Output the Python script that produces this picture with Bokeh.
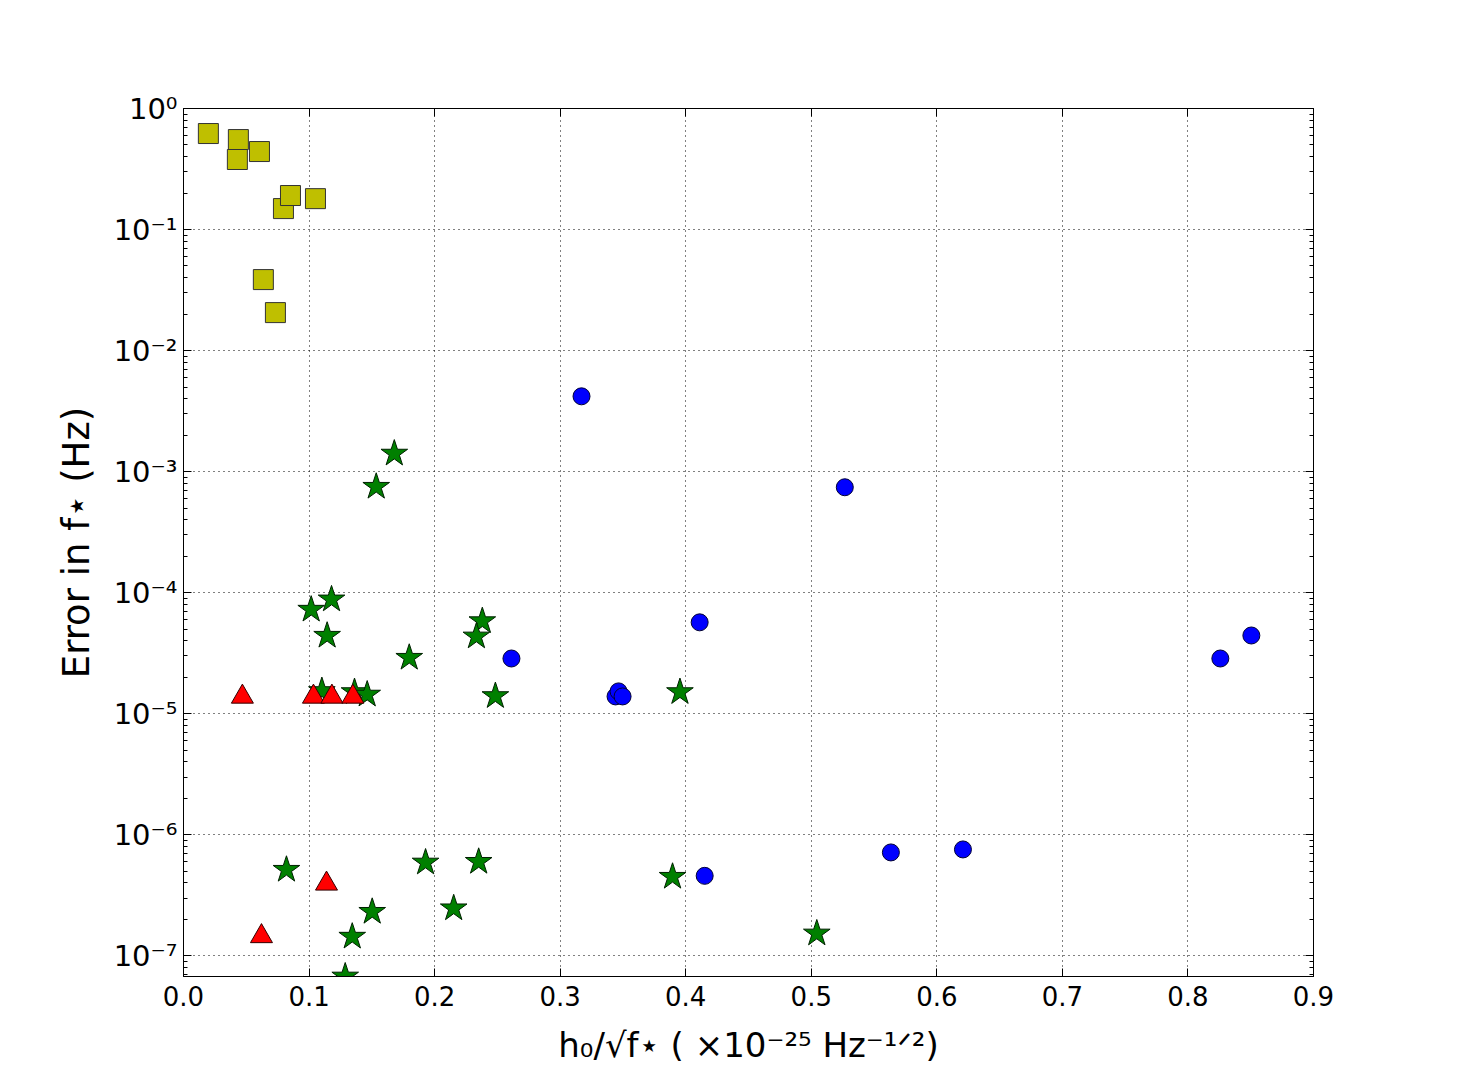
from bokeh.plotting import figure
from bokeh.models import (Range1d, FixedTicker, LinearAxis, LogAxis,
                          NumeralTickFormatter, CustomJSTickFormatter)
from bokeh.embed import file_html
from bokeh.resources import INLINE

# ---- data ----
sq_x = [0.0198, 0.0437, 0.0429, 0.0605, 0.0796, 0.0852, 0.1051, 0.0636, 0.0732]
sq_y = [0.621, 0.554, 0.379, 0.441, 0.149, 0.191, 0.180, 0.0386, 0.0206]

circ_x = [0.317, 0.5267, 0.4111, 0.2612, 0.3441, 0.3465, 0.3497, 0.4151,
          0.5634, 0.6208, 0.8258, 0.8505]
circ_y = [4.19e-3, 7.43e-4, 5.69e-5, 2.86e-5, 1.39e-5, 1.53e-5, 1.39e-5,
          4.58e-7, 7.15e-7, 7.57e-7, 2.86e-5, 4.43e-5]

star_x = [0.1679, 0.1535, 0.1017, 0.1179, 0.1144, 0.1798, 0.2380, 0.2333,
          0.2484, 0.1102, 0.1362, 0.1463, 0.3954, 0.0820, 0.1928, 0.2351,
          0.1503, 0.2152, 0.1344, 0.1288, 0.3895, 0.5044]
star_y = [1.41e-3, 7.5e-4, 7.24e-5, 8.8e-5, 4.41e-5, 2.9e-5, 5.82e-5, 4.35e-5,
          1.40e-5, 1.54e-5, 1.51e-5, 1.44e-5, 1.51e-5, 5.14e-7, 5.9e-7, 5.98e-7,
          2.31e-7, 2.47e-7, 1.44e-7, 6.75e-8, 4.5e-7, 1.53e-7]

tri_x = [0.0469, 0.1035, 0.1182, 0.1349, 0.1139, 0.0621]
tri_y = [1.38e-5, 1.38e-5, 1.38e-5, 1.38e-5, 3.94e-7, 1.45e-7]

x_ticks = [0.0, 0.1, 0.2, 0.3, 0.4, 0.5, 0.6, 0.7, 0.8, 0.9]
y_ticks = [1e-7, 1e-6, 1e-5, 1e-4, 1e-3, 1e-2, 1e-1, 1e0]
y_minor = [k * 10.0 ** n for n in range(-8, 0) for k in range(2, 10)]

x_label = "h\u2080/\u221Af\u22C6 ( \u00D710\u207B\u00B2\u2075 Hz\u207B\u00B9\u141F\u00B2)"
y_label = "Error in f\u22C6 (Hz)"

FONT = "DejaVu Sans"

p = figure(width=1441, height=1070, y_axis_type="log",
           x_range=Range1d(0, 0.9), y_range=Range1d(6.75e-8, 1.0),
           output_backend="svg", toolbar_location=None,
           min_border_left=183, min_border_right=128,
           min_border_top=108, min_border_bottom=94)
p.background_fill_color = "white"
p.border_fill_color = "white"
p.outline_line_color = "black"
p.outline_line_width = 1

xt = FixedTicker(ticks=x_ticks, minor_ticks=[])
yt = FixedTicker(ticks=y_ticks, minor_ticks=y_minor)

sup_js = """
const m = {"-":"\u207B","0":"\u2070","1":"\u00B9","2":"\u00B2","3":"\u00B3",
           "4":"\u2074","5":"\u2075","6":"\u2076","7":"\u2077","8":"\u2078","9":"\u2079"};
const e = Math.round(Math.log10(tick));
return "10" + String(e).split("").map(c => m[c]).join("");
"""

# bottom / left axes
xa = p.xaxis[0]
xa.ticker = xt
xa.formatter = NumeralTickFormatter(format="0.0")
ya = p.yaxis[0]
ya.ticker = yt
ya.formatter = CustomJSTickFormatter(code=sup_js)

for ax in (xa, ya):
    ax.major_tick_in = 8
    ax.major_tick_out = 0
    ax.minor_tick_in = 4
    ax.minor_tick_out = 0
    ax.axis_line_color = "black"
    ax.major_tick_line_color = "black"
    ax.minor_tick_line_color = "black"
    ax.major_label_text_font = FONT
    ax.major_label_text_color = "black"
    ax.axis_label_text_font = FONT
    ax.axis_label_text_font_style = "normal"
    ax.axis_label_text_color = "black"

xa.major_label_text_font_size = "26px"
xa.major_label_standoff = 9
xa.axis_label = x_label
xa.axis_label_text_font_size = "34px"
xa.axis_label_standoff = 16

ya.major_label_text_font_size = "29px"
ya.major_label_standoff = 6
ya.axis_label = y_label
ya.axis_label_text_font_size = "37px"
ya.axis_label_standoff = 13

# top / right axes (ticks only)
blank = CustomJSTickFormatter(code="return ''")
top = LinearAxis(ticker=xt, formatter=blank)
right = LogAxis(ticker=yt, formatter=blank)
for ax in (top, right):
    ax.major_tick_in = 8
    ax.major_tick_out = 0
    ax.minor_tick_in = 4
    ax.minor_tick_out = 0
    ax.axis_line_color = "black"
    ax.major_label_text_font_size = "1px"
    ax.major_label_standoff = 0
p.add_layout(top, "above")
p.add_layout(right, "right")

# grid
p.xgrid.ticker = xt
p.ygrid.ticker = FixedTicker(ticks=y_ticks)
for g in (p.xgrid, p.ygrid):
    g.grid_line_color = "black"
    g.grid_line_dash = "1 4"
    g.grid_line_width = 1
    g.grid_line_alpha = 1.0
p.ygrid.minor_grid_line_color = None

# markers
p.scatter(sq_x, sq_y, marker="square", size=20, fill_color="#bfbf00",
          line_color="#333333", line_width=1)
p.scatter(circ_x, circ_y, marker="circle", size=17, fill_color="#0000ff",
          line_color="#000033", line_width=1)
p.scatter(star_x, star_y, marker="star", size=28, fill_color="#008000",
          line_color="#002000", line_width=1)
p.scatter(tri_x, tri_y, marker="triangle", size=22, fill_color="#ff0000",
          line_color="#330000", line_width=1)

open("out.html", "w").write(file_html(p, INLINE))
